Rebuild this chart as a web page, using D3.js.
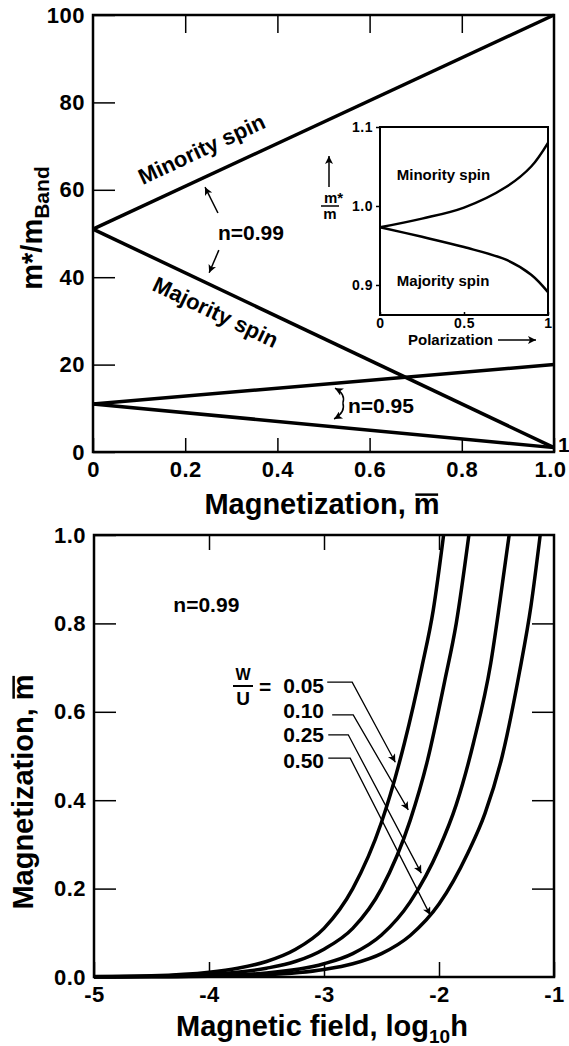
<!DOCTYPE html>
<html>
<head>
<meta charset="utf-8">
<script src="https://cdn.jsdelivr.net/npm/d3@7"></script>
<style>
  body { margin: 0; background: #fff; }
  svg text { font-family: "Liberation Sans", Arial, Helvetica, sans-serif; font-weight: bold; fill: #000; }
</style>
</head>
<body>
<script>
// ---- top panel: m*/m_Band vs magnetization ----
const magX = [0, 1];
const minority099 = [51, 100];
const majority099 = [51, 1];
const upper095 = [11, 20];
const lower095 = [11, 1];
const topXTicks = [0, 0.2, 0.4, 0.6, 0.8, 1.0];
const topYTicks = [0, 20, 40, 60, 80, 100];

// ---- inset: m*/m vs polarization ----
const polX = [0, 0.25, 0.5, 0.75, 0.9, 1];
const insetMinority = [0.973, 0.984, 0.998, 1.024, 1.050, 1.08];
const insetMajority = [0.973, 0.961, 0.948, 0.932, 0.913, 0.891];
const insetYTicks = [0.9, 1.0, 1.1];
const insetXTicks = [0, 0.5, 1];

// ---- bottom panel: magnetization vs log10 h, n=0.99 ----
const wuLabels = ["0.05", "0.10", "0.25", "0.50"];
const fieldA = [-5, -4.5, -4, -3.75, -3.5, -3.25, -3, -2.75, -2.5, -2.3, -2.15, -2.05, -1.96];
const magA   = [0.001, 0.003, 0.011, 0.02, 0.035, 0.062, 0.11, 0.2, 0.35, 0.53, 0.7, 0.83, 1.0];
const fieldB = [-5, -4.5, -4, -3.5, -3.25, -3, -2.75, -2.5, -2.25, -2.1, -1.95, -1.85, -1.74];
const magB   = [0.0006, 0.002, 0.006, 0.02, 0.035, 0.063, 0.11, 0.2, 0.355, 0.49, 0.67, 0.8, 1.0];
const fieldC = [-5, -4.5, -4, -3.5, -3, -2.75, -2.5, -2.25, -2.0, -1.85, -1.7, -1.55, -1.47, -1.39];
const magC   = [0.0003, 0.001, 0.003, 0.009, 0.03, 0.053, 0.095, 0.17, 0.29, 0.39, 0.53, 0.71, 0.85, 1.0];
const fieldD = [-5, -4.5, -4, -3.5, -3, -2.75, -2.5, -2.25, -2.0, -1.75, -1.6, -1.45, -1.3, -1.2, -1.12];
const magD   = [0.00017, 0.0005, 0.0017, 0.005, 0.017, 0.03, 0.053, 0.094, 0.165, 0.28, 0.37, 0.5, 0.69, 0.84, 1.0];
const botXTicks = [-5, -4, -3, -2, -1];
const botYTicks = [0, 0.2, 0.4, 0.6, 0.8, 1.0];
// leader lines for the W/U labels: [start, knee, tip] in (log h, m)
const wuLeaders = [
  [[-2.972, 0.667], [-2.755, 0.667], [-2.38, 0.486]],
  [[-2.929, 0.593], [-2.746, 0.593], [-2.267, 0.378]],
  [[-2.963, 0.548], [-2.789, 0.548], [-2.154, 0.235]],
  [[-2.963, 0.495], [-2.772, 0.495], [-2.076, 0.140]]
];
const wuBaselines = [0.643, 0.586, 0.532, 0.473];

const svg = d3.select("body").append("svg")
  .attr("width", 569).attr("height", 1046);

const defs = svg.append("defs");
defs.append("marker")
  .attr("id", "head")
  .attr("viewBox", "0 0 10 10")
  .attr("refX", 10).attr("refY", 5)
  .attr("markerUnits", "userSpaceOnUse")
  .attr("markerWidth", 12).attr("markerHeight", 8)
  .attr("orient", "auto")
  .append("path").attr("d", "M0,0L10,5L0,10L2.5,5z").attr("fill", "#000");

function styleAxis(g, size) {
  g.select(".domain").remove();
  g.selectAll(".tick line").attr("stroke", "#000").attr("stroke-width", 1.5);
  g.selectAll(".tick text").attr("font-size", size).attr("letter-spacing", "0.5px")
    .attr("font-family", null);
}

// "Magnetization, m" with a bar over the m, drawn in its own group
function magTitle(parent, transform, size) {
  const g = parent.append("g").attr("transform", transform);
  const t = g.append("text").attr("text-anchor", "middle").attr("font-size", size)
    .text("Magnetization, m");
  const node = t.node();
  const r = node.getExtentOfChar(node.getNumberOfChars() - 1);
  const yb = -size * 0.53 - 4;
  g.append("line")
    .attr("x1", r.x + 1.5).attr("x2", r.x + r.width - 1.5)
    .attr("y1", yb).attr("y2", yb)
    .attr("stroke", "#000").attr("stroke-width", 2.5);
}

// ================= top panel =================
const xTop = d3.scaleLinear().domain([0, 1]).range([93, 554]);
const yTop = d3.scaleLinear().domain([0, 100]).range([452, 15]);
const topG = svg.append("g");

topG.append("g")
  .attr("transform", "translate(93,0)")
  .call(d3.axisLeft(yTop).tickValues(topYTicks).tickSizeInner(-22).tickSizeOuter(0).tickPadding(8).tickFormat(d3.format("d")))
  .call(g => styleAxis(g, 22));

topG.append("g")
  .attr("transform", "translate(0,452)")
  .call(d3.axisBottom(xTop).tickValues(topXTicks).tickSizeInner(-14).tickSizeOuter(0).tickPadding(9)
    .tickFormat(d => d === 0 ? "0" : d3.format(".1f")(d)))
  .call(g => styleAxis(g, 22))
  .call(g => g.selectAll(".tick text").filter(d => d === 1).attr("dx", -4));

topG.append("g")
  .attr("transform", "translate(0,15)")
  .call(d3.axisTop(xTop).tickValues([0.2, 0.4, 0.6, 0.8]).tickSizeInner(-18).tickSizeOuter(0).tickFormat(""))
  .call(g => styleAxis(g, 22));

topG.append("rect")
  .attr("x", xTop(0)).attr("y", yTop(100))
  .attr("width", xTop(1) - xTop(0)).attr("height", yTop(0) - yTop(100))
  .attr("fill", "none").attr("stroke", "#000").attr("stroke-width", 2.5);

const topLine = d3.line().x((d, i) => xTop(magX[i])).y(d => yTop(d));
[minority099, majority099, upper095, lower095].forEach(s => {
  topG.append("path").attr("d", topLine(s))
    .attr("fill", "none").attr("stroke", "#000").attr("stroke-width", 3.5);
});

topG.append("text")
  .attr("transform", `translate(${xTop(0.108)},${yTop(61.1)}) rotate(-25)`)
  .attr("font-size", 22).text("Minority spin");
topG.append("text")
  .attr("transform", `translate(${xTop(0.126)},${yTop(37.1)}) rotate(25.5)`)
  .attr("font-size", 22).text("Majority spin");

topG.append("text").attr("x", xTop(0.271)).attr("y", yTop(48.4))
  .attr("font-size", 21).text("n=0.99");
topG.append("line")
  .attr("x1", xTop(0.271)).attr("y1", yTop(54.7)).attr("x2", xTop(0.243)).attr("y2", yTop(60.6))
  .attr("stroke", "#000").attr("stroke-width", 1.5).attr("marker-end", "url(#head)");
topG.append("line")
  .attr("x1", xTop(0.273)).attr("y1", yTop(46.2)).attr("x2", xTop(0.252)).attr("y2", yTop(41.0))
  .attr("stroke", "#000").attr("stroke-width", 1.5).attr("marker-end", "url(#head)");

topG.append("text").attr("x", xTop(0.553)).attr("y", yTop(8.9))
  .attr("font-size", 21).text("n=0.95");
const cx = xTop(0.542), cy = yTop(11.2);
topG.append("path")
  .attr("d", `M${cx},${cy}Q${cx + 3},${cy - 9} ${xTop(0.525)},${yTop(14.6)}`)
  .attr("fill", "none").attr("stroke", "#000").attr("stroke-width", 1.5).attr("marker-end", "url(#head)");
topG.append("path")
  .attr("d", `M${cx},${cy}Q${cx + 3},${cy + 9} ${xTop(0.523)},${yTop(7.55)}`)
  .attr("fill", "none").attr("stroke", "#000").attr("stroke-width", 1.5).attr("marker-end", "url(#head)");

topG.append("text").attr("x", xTop(1) + 4).attr("y", yTop(0))
  .attr("font-size", 21).text("1");

// axis titles
topG.append("text")
  .attr("transform", "translate(42,228) rotate(-90)")
  .attr("text-anchor", "middle").attr("font-size", 29)
  .call(t => {
    t.append("tspan").text("m*/m");
    t.append("tspan").attr("dy", 7).attr("font-size", 21).text("Band");
  });
magTitle(topG, "translate(322,514)", 29);

// ================= inset =================
const xIn = d3.scaleLinear().domain([0, 1]).range([380, 548]);
const yIn = d3.scaleLinear().domain([0.862, 1.1]).range([315, 127]);
const inset = svg.append("g");

inset.append("rect")
  .attr("x", xIn(0)).attr("y", yIn(1.1))
  .attr("width", xIn(1) - xIn(0)).attr("height", yIn(0.862) - yIn(1.1))
  .attr("fill", "#fff").attr("stroke", "#000").attr("stroke-width", 2);

inset.append("g")
  .attr("transform", `translate(${xIn(0)},0)`)
  .call(d3.axisLeft(yIn).tickValues(insetYTicks).tickSizeInner(4).tickSizeOuter(0).tickPadding(3).tickFormat(d3.format(".1f")))
  .call(g => styleAxis(g, 14));
inset.append("g")
  .attr("transform", `translate(0,${yIn(0.862)})`)
  .call(d3.axisBottom(xIn).tickValues(insetXTicks).tickSizeInner(-3).tickSizeOuter(0).tickPadding(3).tickFormat(d => String(d)))
  .call(g => styleAxis(g, 14));

const inLine = d3.line().x((d, i) => xIn(polX[i])).y(d => yIn(d)).curve(d3.curveCatmullRom);
[insetMinority, insetMajority].forEach(s => {
  inset.append("path").attr("d", inLine(s))
    .attr("fill", "none").attr("stroke", "#000").attr("stroke-width", 2.5);
});

inset.append("text").attr("x", xIn(0.1)).attr("y", yIn(1.033)).attr("font-size", 15).text("Minority spin");
inset.append("text").attr("x", xIn(0.1)).attr("y", yIn(0.899)).attr("font-size", 15).text("Majority spin");
inset.append("text").attr("x", 408).attr("y", 345).attr("font-size", 15).text("Polarization");
inset.append("line").attr("x1", 498).attr("y1", 340).attr("x2", 536).attr("y2", 340)
  .attr("stroke", "#000").attr("stroke-width", 1.5).attr("marker-end", "url(#head)");

// inset y label: arrow + fraction
inset.append("line").attr("x1", 329).attr("y1", 187).attr("x2", 329).attr("y2", 156)
  .attr("stroke", "#000").attr("stroke-width", 1.5).attr("marker-end", "url(#head)");
inset.append("text").attr("x", 324).attr("y", 203).attr("font-size", 15).text("m*");
inset.append("line").attr("x1", 321).attr("y1", 206).attr("x2", 339).attr("y2", 206)
  .attr("stroke", "#000").attr("stroke-width", 1.5);
inset.append("text").attr("x", 330).attr("y", 219).attr("text-anchor", "middle").attr("font-size", 15).text("m");

// ================= bottom panel =================
const xBot = d3.scaleLinear().domain([-5, -1]).range([94, 554]);
const yBot = d3.scaleLinear().domain([0, 1]).range([977, 535]);
const bot = svg.append("g");

bot.append("g")
  .attr("transform", "translate(94,0)")
  .call(d3.axisLeft(yBot).tickValues(botYTicks).tickSizeInner(-22).tickSizeOuter(0).tickPadding(8).tickFormat(d3.format(".1f")))
  .call(g => styleAxis(g, 22));
bot.append("g")
  .attr("transform", "translate(554,0)")
  .call(d3.axisRight(yBot).tickValues([0.2, 0.4, 0.6, 0.8]).tickSizeInner(-22).tickSizeOuter(0).tickFormat(""))
  .call(g => styleAxis(g, 22));
bot.append("g")
  .attr("transform", "translate(0,977)")
  .call(d3.axisBottom(xBot).tickValues(botXTicks).tickSizeInner(-15).tickSizeOuter(0).tickPadding(9).tickFormat(d => String(d)))
  .call(g => styleAxis(g, 22));
bot.append("g")
  .attr("transform", "translate(0,535)")
  .call(d3.axisTop(xBot).tickValues([-4, -3, -2]).tickSizeInner(-15).tickSizeOuter(0).tickFormat(""))
  .call(g => styleAxis(g, 22));

bot.append("rect")
  .attr("x", xBot(-5)).attr("y", yBot(1))
  .attr("width", xBot(-1) - xBot(-5)).attr("height", yBot(0) - yBot(1))
  .attr("fill", "none").attr("stroke", "#000").attr("stroke-width", 2.5);

const curves = [[fieldA, magA], [fieldB, magB], [fieldC, magC], [fieldD, magD]];
curves.forEach(([fx, my]) => {
  const line = d3.line().x((d, i) => xBot(fx[i])).y(d => yBot(d)).curve(d3.curveMonotoneX);
  bot.append("path").attr("d", line(my))
    .attr("fill", "none").attr("stroke", "#000").attr("stroke-width", 3.5);
});

bot.append("text").attr("x", xBot(-4.31)).attr("y", yBot(0.826)).attr("font-size", 21).text("n=0.99");

wuLabels.forEach((lab, i) => {
  bot.append("text").attr("x", xBot(-3.0)).attr("y", yBot(wuBaselines[i]))
    .attr("text-anchor", "end").attr("font-size", 21).text(lab);
  const pts = wuLeaders[i];
  bot.append("path")
    .attr("d", d3.line().x(p => xBot(p[0])).y(p => yBot(p[1]))(pts))
    .attr("fill", "none").attr("stroke", "#000").attr("stroke-width", 1.3)
    .attr("marker-end", "url(#head)");
});
// W/U fraction and "="
bot.append("text").attr("x", 243).attr("y", 680).attr("text-anchor", "middle").attr("font-size", 16).text("W");
bot.append("line").attr("x1", 233).attr("y1", 686).attr("x2", 253).attr("y2", 686)
  .attr("stroke", "#000").attr("stroke-width", 2);
bot.append("text").attr("x", 243).attr("y", 705).attr("text-anchor", "middle").attr("font-size", 19).text("U");
bot.append("text").attr("x", 259).attr("y", 694).attr("font-size", 21).text("=");

// axis titles
magTitle(bot, "translate(33,792) rotate(-90)", 29);
bot.append("text")
  .attr("x", 322).attr("y", 1036).attr("text-anchor", "middle").attr("font-size", 29)
  .call(t => {
    t.append("tspan").text("Magnetic field, log");
    t.append("tspan").attr("dy", 7).attr("font-size", 19).text("10");
    t.append("tspan").attr("dy", -7).text("h");
  });
</script>
</body>
</html>
